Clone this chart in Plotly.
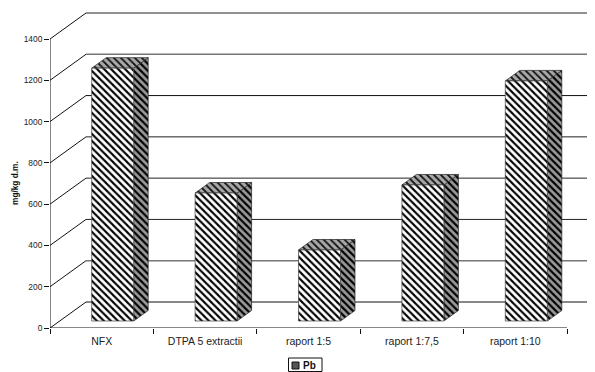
import plotly.graph_objects as go

categories = ["NFX", "DTPA 5 extractii", "raport 1:5", "raport 1:7,5", "raport 1:10"]
pb_values = [1225, 620, 344, 659, 1163]
grid_values = [0, 200, 400, 600, 800, 1000, 1200, 1400]
grid_colors = ["#111111", "#777777", "#222222", "#222222", "#222222", "#111111", "#777777", "#222222"]
grid_widths = [1, 2, 1, 1, 1, 1, 2, 1]

PAGE = 8  # default page margin
W, H = 595 - PAGE, 372 - PAGE
L, R_AX, Y0, Y1400 = 50 - PAGE, 567 - PAGE, 328 - PAGE, 39 - PAGE
PX_X = (R_AX - L) / 5          # pixels per category
PX_Y = (Y0 - Y1400) / 1400     # pixels per value unit
X_MAX = (W - L) / PX_X
Y_MAX = Y0 / PX_Y

def dx(px):
    return px / PX_X

def dy(px):
    return px / PX_Y

def paper_x(px):
    return (px - PAGE - L) / (W - L)

def paper_y(px):
    return (Y0 - (px - PAGE)) / Y0

WALL_X, WALL_Y = dx(36), dy(26)
FRONT_X, FRONT_Y = dx(11), dy(7)
DEPTH_X, DEPTH_Y = dx(14.5), dy(10.5)
BAR_W = dx(42)

fig = go.Figure()

for v, c, w in zip(grid_values, grid_colors, grid_widths):
    fig.add_trace(go.Scatter(x=[WALL_X, X_MAX], y=[v + WALL_Y, v + WALL_Y], mode="lines",
                             line=dict(color=c, width=1 if w == 1 else 1.6), showlegend=False, hoverinfo="skip"))
    fig.add_trace(go.Scatter(x=[0, WALL_X], y=[v, v + WALL_Y], mode="lines",
                             line=dict(color="#111111", width=1), showlegend=False, hoverinfo="skip"))

fig.add_trace(go.Scatter(x=[0, 0], y=[0, 1400], mode="lines", line=dict(color="#111111", width=1),
                         showlegend=False, hoverinfo="skip", cliponaxis=False))
fig.add_trace(go.Scatter(x=[0, 5], y=[0, 0], mode="lines", line=dict(color="#111111", width=1),
                         showlegend=False, hoverinfo="skip", cliponaxis=False))

centers = [i + 0.5 for i in range(len(categories))]
base_y = FRONT_Y
hatch = dict(shape="\\", size=4.95, solidity=0.42, fgcolor="#000000", fgopacity=1, bgcolor="#ffffff")
dark = dict(shape="\\", size=4.95, solidity=0.45, fgcolor="#000000", fgopacity=1, bgcolor="#9a9a9a")
top_p = dict(shape="\\", size=4.95, solidity=0.35, fgcolor="#111111", fgopacity=1, bgcolor="#a8a8a8")

for c, v in zip(centers, pb_values):
    x0 = c + FRONT_X - BAR_W / 2
    x1 = x0 + BAR_W
    t = base_y + v
    fig.add_trace(go.Scatter(x=[x1, x1 + DEPTH_X, x1 + DEPTH_X, x1, x1],
                             y=[base_y, base_y + DEPTH_Y, t + DEPTH_Y, t, base_y],
                             mode="lines", fill="toself", fillcolor="#9a9a9a", fillpattern=dark,
                             line=dict(color="#222222", width=0.7), showlegend=False, hoverinfo="skip"))
    fig.add_trace(go.Scatter(x=[x0, x0 + DEPTH_X, x1 + DEPTH_X, x1, x0],
                             y=[t, t + DEPTH_Y, t + DEPTH_Y, t, t],
                             mode="lines", fill="toself", fillcolor="#a8a8a8", fillpattern=top_p,
                             line=dict(color="#222222", width=0.7), showlegend=False, hoverinfo="skip"))
    fig.add_trace(go.Scatter(x=[x0, x1, x1, x0, x0], y=[base_y, base_y, t, t, base_y], name="Pb",
                             mode="lines", fill="toself", fillcolor="#ffffff", fillpattern=hatch,
                             line=dict(color="#444444", width=0.7), showlegend=False, hoverinfo="skip"))

fig.add_trace(go.Scatter(x=[0], y=[0], xaxis="x2", mode="markers", marker=dict(opacity=0),
                         showlegend=False, hoverinfo="skip"))

fig.update_layout(
    width=W, height=H, margin=dict(l=L, r=0, t=0, b=H - Y0),
    paper_bgcolor="#ffffff", plot_bgcolor="#ffffff", showlegend=False,
    font=dict(family="Liberation Sans, Arial, sans-serif", color="#222222", size=10),
    xaxis=dict(range=[0, X_MAX], tickmode="array", tickvals=centers, ticktext=categories, ticks="",
               showgrid=False, zeroline=False, showline=False, tickfont=dict(size=10.5), ticklabelstandoff=5),
    xaxis2=dict(range=[0, X_MAX], overlaying="x", anchor="y", side="bottom", tickmode="array",
                tickvals=list(range(6)), ticktext=[""] * 6, ticks="outside", ticklen=5, tickcolor="#111111",
                showgrid=False, zeroline=False, showline=False),
    yaxis=dict(range=[0, Y_MAX], tickmode="array", tickvals=grid_values, ticks="outside", ticklen=5,
               tickcolor="#111111", showgrid=False, zeroline=False, showline=False, tickfont=dict(size=8.4)),
    annotations=[
        dict(text="<b>mg/kg d.m.</b>", xref="paper", yref="paper", x=paper_x(15), y=paper_y(183), textangle=-90,
             showarrow=False, font=dict(size=8.3, color="#111111"), xanchor="center", yanchor="middle"),
        dict(text="<b>Pb</b>", xref="paper", yref="paper", x=paper_x(301), y=paper_y(365.5), showarrow=False,
             font=dict(size=10, color="#111111"), xanchor="left", yanchor="middle"),
    ],
    shapes=[
        dict(type="rect", xref="paper", yref="paper", x0=paper_x(288.5), x1=paper_x(322), y0=paper_y(358),
             y1=paper_y(371.5), line=dict(color="#111111", width=1), fillcolor="#ffffff"),
        dict(type="rect", xref="paper", yref="paper", x0=paper_x(292), x1=paper_x(299), y0=paper_y(362),
             y1=paper_y(369), line=dict(color="#111111", width=1), fillcolor="#555555"),
    ],
)

fig.write_html("out.html")
